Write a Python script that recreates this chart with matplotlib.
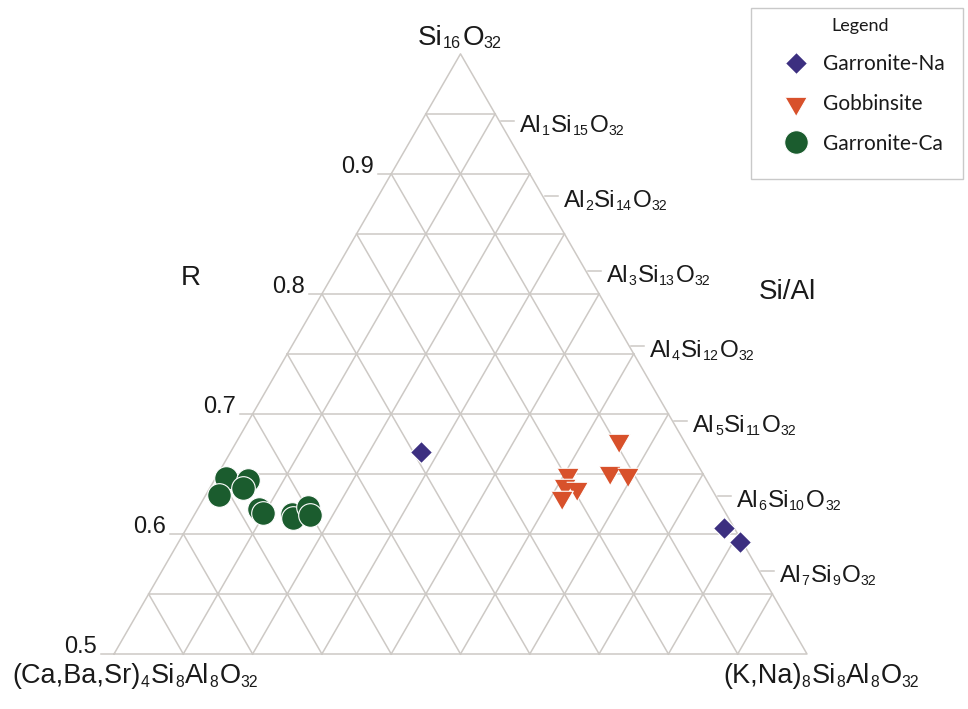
import re
import numpy as np
import matplotlib.pyplot as plt
import matplotlib.transforms as mtransforms
from matplotlib.lines import Line2D
from matplotlib.patches import Rectangle

plt.rcParams['font.family'] = 'Liberation Sans'

# R = Si/(Si+Al); mono = share of (K,Na) end member along the base
na_R = [0.668, 0.605, 0.593]
na_mono = [0.414, 0.981, 0.996]

gob_R = [0.678, 0.652, 0.650, 0.650, 0.641, 0.638, 0.631]
gob_mono = [0.855, 0.810, 0.845, 0.721, 0.710, 0.733, 0.698]

ca_R = [0.647, 0.645, 0.6325, 0.638, 0.621, 0.6175, 0.617, 0.613, 0.6225, 0.616]
ca_mono = [0.021, 0.068, 0.026, 0.066, 0.117, 0.127, 0.183, 0.188, 0.208, 0.217]

r_ticks = [0.5, 0.6, 0.7, 0.8, 0.9]
al_counts = [1, 2, 3, 4, 5, 6, 7]

H = np.sqrt(3) / 2
px = 1 / 693.0   # one pixel in triangle units
DPI = 100
ink = '#1a1a1a'


def to_xy(R, mono):
    t = (np.asarray(R) - 0.5) / 0.5
    c = (1 - t) * np.asarray(mono)
    return c + t / 2, t * H


fig = plt.figure(figsize=(9.68, 7.09), dpi=DPI)
ax = fig.add_axes([0, 0, 1, 1])
ax.set_xlim(-114 * px, (968 - 114) * px)
ax.set_ylim(-(709 - 654) * px, 654 * px)
ax.axis('off')
renderer = fig.canvas.get_renderer()


def formula(x, y, s, size, ha='left'):
    """Write a formula with small, lowered digits as subscripts."""
    parts = re.findall(r'\d+|\D+', s)
    items, total = [], 0.0
    for p in parts:
        sub = p.isdigit()
        t = ax.text(x, y, p, fontsize=size * 0.58 if sub else size,
                    ha='left', va='baseline', color=ink)
        w = t.get_window_extent(renderer).width
        items.append((t, total, -size * 0.13 if sub else 0.0))
        total += w + (size * 0.06 * DPI / 72 if sub else 0)
    shift = {'left': 0, 'center': total / 2, 'right': total}[ha]
    for t, off, dy in items:
        t.set_transform(mtransforms.offset_copy(
            ax.transData, fig=fig, x=(off - shift) * 72 / DPI, y=dy, units='points'))


grid_c = '#cdc9c5'
grid_lw = 1.1

# outline and grid
ax.plot([0, 1, 0.5, 0], [0, 0, H, 0], color=grid_c, lw=grid_lw, zorder=1)
for i in range(1, 10):
    f = i / 10
    ax.plot([f / 2, 1 - f / 2], [f * H, f * H], color=grid_c, lw=grid_lw, zorder=1)
    ax.plot([f, f + (1 - f) / 2], [0, (1 - f) * H], color=grid_c, lw=grid_lw, zorder=1)
    ax.plot([1 - f, (1 - f) / 2], [0, (1 - f) * H], color=grid_c, lw=grid_lw, zorder=1)

# R ticks on the left edge
for r in r_ticks:
    t = (r - 0.5) / 0.5
    xe, ye = t / 2, t * H
    ax.plot([xe - 13 * px, xe], [ye, ye], color=grid_c, lw=grid_lw, zorder=1)
    ax.text(xe - 17 * px, ye + 1 * px, f'{r:.1f}', ha='right', va='baseline',
            fontsize=17, color=ink)

# Si/Al ticks on the right edge
for n in al_counts:
    t = 2 * (16 - n) / 16 - 1
    ye = t * H + 8 * px
    xe = 1 - (ye / H) / 2
    ax.plot([xe + 2 * px, xe + 15 * px], [ye, ye], color=grid_c, lw=grid_lw, zorder=1)
    formula(xe + 21 * px, ye - 11 * px, f'Al{n}Si{16 - n}O32', 17.5)

# corner and axis labels
formula(0.5, H + 9 * px, 'Si16O32', 20, ha='center')
formula(-102 * px, -29 * px, '(Ca,Ba,Sr)4Si8Al8O32', 19.5)
formula(609 * px, -29 * px, '(K,Na)8Si8Al8O32', 19.5)
ax.text(77 * px, 376 * px, 'R', ha='center', va='center', fontsize=20, color=ink)
ax.text(673 * px, 362 * px, 'Si/Al', ha='center', va='center', fontsize=20, color=ink)

# data
c_na, c_gob, c_ca = '#3c2f80', '#d8512b', '#1b5c2e'
tri_down = [(-1, 0.577), (1, 0.577), (0, -1.155)]

x, y = to_xy(ca_R, ca_mono)
ax.plot(x, y, 'o', ms=17, mfc=c_ca, mec='white', mew=0.8, ls='none', zorder=3)
x, y = to_xy(gob_R, gob_mono)
ax.plot(x, y, marker=tri_down, ms=18, mfc=c_gob, mec='white', mew=0.8, ls='none', zorder=3)
x, y = to_xy(na_R, na_mono)
ax.plot(x, y, 'D', ms=11.7, mfc=c_na, mec='white', mew=0.8, ls='none', zorder=3)

# legend
handles = [
    Line2D([], [], marker='D', ms=11.7, mfc=c_na, mec='white', mew=0.8, ls='none'),
    Line2D([], [], marker=tri_down, ms=18, mfc=c_gob, mec='white', mew=0.8, ls='none'),
    Line2D([], [], marker='o', ms=17, mfc=c_ca, mec='white', mew=0.8, ls='none'),
]
labels = ['Garronite-Na', 'Gobbinsite', 'Garronite-Ca']
fig.patches.append(Rectangle((751 / 968, 1 - 179 / 709), 212 / 968, 171 / 709,
                             transform=fig.transFigure, fill=False,
                             edgecolor='#c9c9c9', lw=1.0))
leg = fig.legend(handles, labels, loc='upper left', bbox_to_anchor=(765 / 968, 1 - 8 / 709),
                 frameon=False, title='Legend', prop={'family': 'Lato', 'size': 15},
                 title_fontproperties={'family': 'Lato', 'size': 13},
                 borderpad=0, labelspacing=0.95, handlelength=2.0, handletextpad=0.3)
for t in leg.get_texts():
    t.set_color(ink)
leg.get_title().set_color(ink)

fig.savefig('out.png', dpi=DPI, facecolor='white')
